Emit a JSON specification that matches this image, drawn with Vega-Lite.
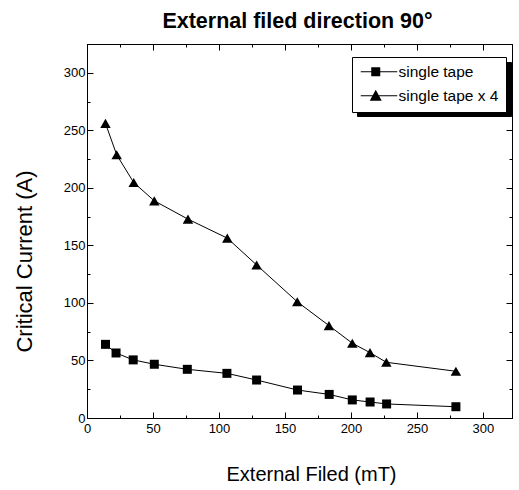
{
  "$schema": "https://vega.github.io/schema/vega-lite/v6.json",
  "width": 425,
  "height": 374,
  "autosize": {"type": "none"},
  "padding": {"left": 87, "top": 44, "right": 7, "bottom": 72},
  "background": "white",
  "config": {
    "view": {"stroke": "black", "strokeWidth": 1},
    "font": "Liberation Sans"
  },
  "title": {
    "text": "External filed direction 90°",
    "font": "Liberation Sans",
    "fontSize": 21.5,
    "fontWeight": "bold",
    "color": "black",
    "anchor": "middle",
    "offset": 11,
    "dx": -2
  },
  "data": {
    "values": [
      {"field": 14, "current": 64, "series": "single tape"},
      {"field": 22, "current": 56.5, "series": "single tape"},
      {"field": 35, "current": 50.5, "series": "single tape"},
      {"field": 51, "current": 46.7, "series": "single tape"},
      {"field": 76, "current": 42.3, "series": "single tape"},
      {"field": 106, "current": 38.8, "series": "single tape"},
      {"field": 128.5, "current": 33, "series": "single tape"},
      {"field": 159.5, "current": 24.3, "series": "single tape"},
      {"field": 183.5, "current": 20.5, "series": "single tape"},
      {"field": 201, "current": 15.7, "series": "single tape"},
      {"field": 214.5, "current": 13.9, "series": "single tape"},
      {"field": 227, "current": 12.2, "series": "single tape"},
      {"field": 279.5, "current": 9.8, "series": "single tape"},
      {"field": 14, "current": 256, "series": "single tape x 4"},
      {"field": 22.5, "current": 228.7, "series": "single tape x 4"},
      {"field": 35.4, "current": 204.6, "series": "single tape x 4"},
      {"field": 51, "current": 188.7, "series": "single tape x 4"},
      {"field": 76.5, "current": 172.8, "series": "single tape x 4"},
      {"field": 106.3, "current": 156.3, "series": "single tape x 4"},
      {"field": 128.5, "current": 133, "series": "single tape x 4"},
      {"field": 159.3, "current": 101, "series": "single tape x 4"},
      {"field": 183.3, "current": 80.3, "series": "single tape x 4"},
      {"field": 201, "current": 65, "series": "single tape x 4"},
      {"field": 214.4, "current": 56.8, "series": "single tape x 4"},
      {"field": 226.8, "current": 48.4, "series": "single tape x 4"},
      {"field": 279.5, "current": 40.6, "series": "single tape x 4"}
    ]
  },
  "resolve": {"axis": {"x": "independent", "y": "independent"}},
  "layer": [
    {
      "mark": {"type": "line", "strokeWidth": 1, "color": "black"},
      "encoding": {
        "x": {
          "field": "field", "type": "quantitative",
          "scale": {"domain": [0, 322], "nice": false, "zero": false},
          "axis": {
            "orient": "bottom",
            "values": [0, 25, 50, 75, 100, 125, 150, 175, 200, 225, 250, 275, 300],
            "labelExpr": "datum.value % 50 == 0 ? datum.label : ''",
            "tickSize": {"condition": {"test": "datum.value % 50 == 0", "value": -6}, "value": -3},
            "tickColor": "black", "domainColor": "black", "labelColor": "black",
            "labelFont": "Liberation Sans", "labelFontSize": 13, "labelPadding": 10,
            "labelFlush": false, "grid": false,
            "title": "External Filed (mT)", "titleFont": "Liberation Sans", "titleFontSize": 20,
            "titleFontWeight": "normal", "titleColor": "black",
            "titleX": 224, "titleY": 46, "titleAnchor": "middle", "titleAlign": "center", "titleBaseline": "top"
          }
        },
        "y": {
          "field": "current", "type": "quantitative",
          "scale": {"domain": [0, 325], "nice": false, "zero": false},
          "axis": {
            "orient": "left",
            "values": [0, 25, 50, 75, 100, 125, 150, 175, 200, 225, 250, 275, 300],
            "labelExpr": "datum.value % 50 == 0 ? datum.label : ''",
            "tickSize": {"condition": {"test": "datum.value % 50 == 0", "value": -6}, "value": -3},
            "tickColor": "black", "domainColor": "black", "labelColor": "black",
            "labelFont": "Liberation Sans", "labelFontSize": 13, "labelPadding": 8,
            "labelFlush": false, "grid": false,
            "title": "Critical Current (A)", "titleFont": "Liberation Sans", "titleFontSize": 22,
            "titleFontWeight": "normal", "titleColor": "black",
            "titleX": -51, "titleY": 217, "titleAngle": 270, "titleAlign": "center", "titleBaseline": "bottom"
          }
        },
        "detail": {"field": "series"},
        "color": {
          "field": "series", "type": "nominal",
          "scale": {"range": ["black", "black"]},
          "legend": {
            "orient": "none", "legendX": 270, "legendY": 18, "title": null,
            "zindex": 1, "direction": "vertical",
            "fillColor": "black", "strokeColor": "black", "padding": 7,
            "labelFont": "Liberation Sans", "labelFontSize": 15.5, "labelColor": "black",
            "symbolSize": 100, "labelOffset": 24, "rowPadding": 6,
            "symbolStrokeColor": "black", "symbolFillColor": "black"
          }
        }
      }
    },
    {
      "transform": [{"filter": "datum.series === 'single tape'"}],
      "mark": {"type": "point", "shape": "square", "filled": true, "color": "black", "opacity": 1, "size": 81},
      "encoding": {
        "x": {"field": "field", "type": "quantitative", "axis": null},
        "y": {"field": "current", "type": "quantitative", "axis": null}
      }
    },
    {
      "transform": [{"filter": "datum.series === 'single tape x 4'"}],
      "mark": {"type": "point", "shape": "triangle-up", "filled": true, "color": "black", "opacity": 1, "size": 110},
      "encoding": {
        "x": {"field": "field", "type": "quantitative", "axis": null},
        "y": {"field": "current", "type": "quantitative", "axis": null}
      }
    },
    {
      "mark": {"type": "point", "opacity": 0, "filled": true, "color": "black", "stroke": "black", "strokeWidth": 1},
      "encoding": {
        "x": {
          "field": "field", "type": "quantitative",
          "axis": {
            "orient": "top", "values": [0, 25, 50, 75, 100, 125, 150, 175, 200, 225, 250, 275, 300],
            "labels": false, "title": null, "grid": false,
            "tickSize": {"condition": {"test": "datum.value % 50 == 0", "value": -6}, "value": -3},
            "tickColor": "black", "domainColor": "black"
          }
        },
        "y": {
          "field": "current", "type": "quantitative",
          "axis": {
            "orient": "right", "values": [0, 25, 50, 75, 100, 125, 150, 175, 200, 225, 250, 275, 300],
            "labels": false, "title": null, "grid": false,
            "tickSize": {"condition": {"test": "datum.value % 50 == 0", "value": -6}, "value": -3},
            "tickColor": "black", "domainColor": "black"
          }
        },
        "shape": {
          "field": "series", "type": "nominal",
          "scale": {
            "domain": ["single tape", "single tape x 4"],
            "range": [
              "M-1.2,-0.1H6.1V0.1H-1.2ZM0.9,-0.9H2.7V0.9H0.9Z",
              "M-1.2,-0.1H6.1V0.1H-1.2ZM0.6,1L1.8,-1.2L3,1Z"
            ]
          },
          "legend": {
            "orient": "none", "legendX": 265, "legendY": 13, "title": null,
            "zindex": 2, "direction": "vertical",
            "fillColor": "white", "strokeColor": "black", "padding": 7,
            "labelFont": "Liberation Sans", "labelFontSize": 15.5, "labelColor": "black",
            "symbolSize": 100, "labelOffset": 24, "rowPadding": 6,
            "symbolStrokeColor": "black", "symbolFillColor": "black", "symbolStrokeWidth": 1, "symbolOpacity": 1
          }
        }
      }
    }
  ]
}
